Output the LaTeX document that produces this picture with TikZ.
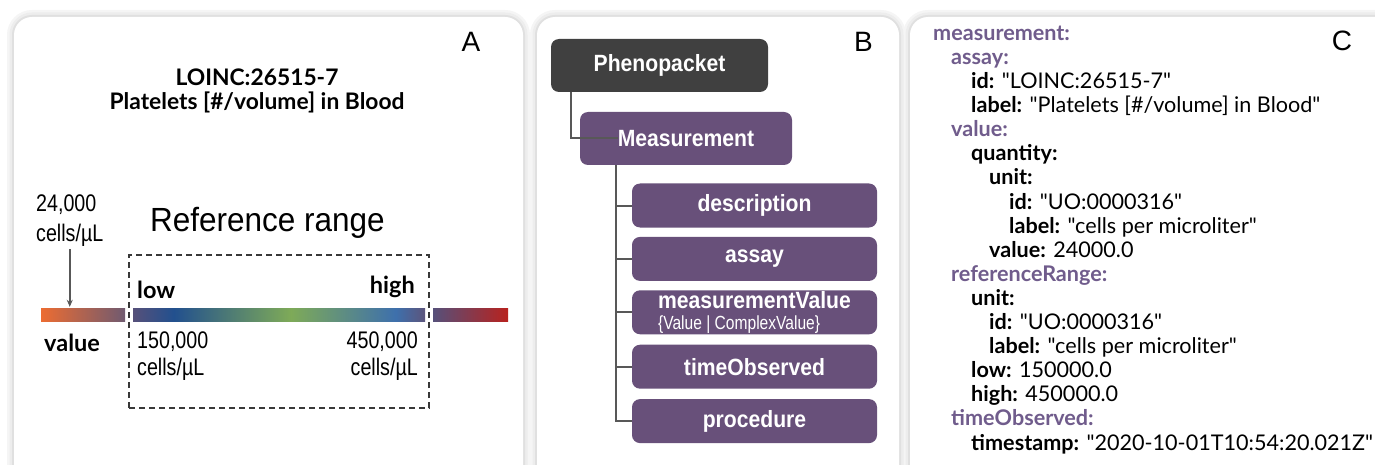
\documentclass[tikz,border=0pt]{standalone}
\usepackage{fontspec}
\setmainfont{Lato}[Ligatures=TeXOff]
\newfontfamily\narrowsf{Liberation Sans}[FakeStretch=0.82]
\newfontfamily\boxsf{Liberation Sans}[FakeStretch=0.9]
\newfontfamily\refsf{Liberation Sans}[FakeStretch=0.94]
\newfontfamily\lettersf{Liberation Sans}
\usetikzlibrary{arrows.meta,positioning,calc}

\definecolor{boxpurple}{RGB}{104,80,122}
\definecolor{boxdark}{RGB}{64,64,64}
\definecolor{keypurple}{RGB}{112,92,140}
\definecolor{treegray}{RGB}{88,88,88}
\definecolor{barorange}{RGB}{236,108,50}
\definecolor{barmauve}{RGB}{112,90,112}
\definecolor{barred}{RGB}{184,34,30}
\definecolor{rngA}{RGB}{86,80,122}
\definecolor{rngB}{RGB}{34,80,142}
\definecolor{rngC}{RGB}{126,170,88}
\definecolor{rngD}{RGB}{62,112,172}
\definecolor{rngE}{RGB}{92,84,124}

% colour ramp of the reference range (stops sit between 25bp and 75bp)
\pgfdeclarehorizontalshading{rangebar}{100bp}{color(0bp)=(rngA); color(25bp)=(rngA);
  color(32bp)=(rngB); color(52bp)=(rngC); color(70bp)=(rngD); color(75bp)=(rngE); color(100bp)=(rngE)}

% yaml helpers
\newcommand{\ykey}[1]{{\color{keypurple}\bfseries #1:}}
\newcommand{\yfld}[1]{{\bfseries #1:}}
\newcommand{\yind}[1]{\hspace*{#1pt}}

\begin{document}
\begin{tikzpicture}[x=1pt,y=-1pt,
  panel/.style={fill=white,rounded corners=18},
  letter/.style={font=\lettersf\fontsize{28}{28}\selectfont},
  title/.style={align=center,inner sep=0,font=\bfseries\fontsize{22.8}{24}\selectfont},
  narrowlbl/.style={inner sep=0,font=\narrowsf\fontsize{24}{27}\selectfont},
  boldlbl/.style={inner sep=0,font=\bfseries\fontsize{23.5}{23.5}\selectfont},
  barseg/.style={minimum height=13,inner sep=0},
  valarrow/.style={draw=treegray,line width=1.6,-{Stealth[length=7pt,width=6pt]}},
  rangebox/.style={draw=black!78,line width=1.8,dash pattern=on 6pt off 4pt,
    minimum width=300,minimum height=153,inner sep=0},
  darkbox/.style={fill=boxdark,rounded corners=8,text=white,inner sep=0,
    minimum width=217,minimum height=53,font=\boxsf\bfseries\fontsize{23.5}{23.5}\selectfont},
  childbox/.style={fill=boxpurple,rounded corners=8,text=white,inner sep=0,
    minimum width=245,minimum height=44,font=\boxsf\bfseries\fontsize{23.5}{23.5}\selectfont},
  tree/.style={draw=treegray,line width=2},
  yaml/.style={align=left,inner sep=0,font=\fontsize{21.6}{24.1}\selectfont}]
  \useasboundingbox (0,0) rectangle (1375,465);
  \clip (0,0) rectangle (1375,465);

  % Panels (soft shadow, then white card)
  \foreach \w/\c in {14/4,9/7,4/12} {
    \draw[black!\c,line width=\w,rounded corners=18] (14,17) rectangle (523,490);
    \draw[black!\c,line width=\w,rounded corners=18] (537,17) rectangle (899,490);
    \draw[black!\c,line width=\w,rounded corners=18] (910,17) rectangle (1400,490);
  }
  \fill[panel] (14,17) rectangle (523,490);
  \fill[panel] (537,17) rectangle (899,490);
  \fill[panel] (910,17) rectangle (1400,490);

  % Panel A
  \node[letter] (labA) at (471,42) {A};
  \node[title,anchor=base] (assayttl) at (257,110) {LOINC:26515-7\\Platelets [\#/volume] in Blood};
  \node[narrowlbl,align=left,anchor=base west,font=\narrowsf\fontsize{24}{30}\selectfont] (val24) at (36,241) {24,000\\cells/µL};
  \node[inner sep=0,anchor=base west,font=\refsf\fontsize{33.5}{33.5}\selectfont] (rngttl) at (150,231) {Reference range};
  \node[rangebox] (rng) at (279,331.5) {};
  % bar
  \node[barseg,minimum width=84,left color=barorange,right color=barmauve] (barL) at (83,314.5) {};
  \node[barseg,minimum width=292,shade,shading=rangebar] (barM) at (279,314.5) {};
  \node[barseg,minimum width=75,left color=rngA,right color=barred] (barR) at (470.5,314.5) {};
  \draw[valarrow,shorten <=3pt,shorten >=1pt] (val24.south) -- (val24.south |- barL.north);
  % Labels
  \node[boldlbl,anchor=base west] (lowlbl) at (137,298) {low};
  \node[boldlbl,anchor=base east] (highlbl) at (415,293) {high};
  \node[boldlbl,anchor=base west] (vallbl) at (44,351) {value};
  \node[narrowlbl,align=left,anchor=base west] (lownum) at (137,375) {150,000\\cells/µL};
  \node[narrowlbl,align=right,anchor=base east] (highnum) at (418,375) {450,000\\cells/µL};

  % Panel B
  \node[letter] (labB) at (863.5,42) {B};
  \node[darkbox] (pheno) at (659.5,65.5) {Phenopacket};
  \node[childbox,minimum width=212,minimum height=53] (meas) at (686,138.5) {Measurement};
  \node[childbox] (desc) at (754.5,205.5) {description};
  \node[childbox,below=9pt of desc] (assay) {assay};
  \node[childbox,below=9pt of assay,align=left] (mval) {measurementValue\\[-3pt]
    {\narrowsf\mdseries\fontsize{19}{19}\selectfont\{Value | ComplexValue\}}};
  \node[childbox,below=10pt of mval] (timeobs) {timeObserved};
  \node[childbox,below=10pt of timeobs] (proc) {procedure};
  \draw[tree] ([xshift=20pt]pheno.south west) |- ([xshift=38pt]meas.west);
  \foreach \n in {desc,assay,mval,timeobs,proc}
    \draw[tree] ([xshift=36pt]meas.south west) |- (\n.west);

  % Panel C
  \node[letter] (labC) at (1342,41) {C};
  \node[yaml,anchor=base west] (yamltxt) at (933,450) {%
    \ykey{measurement}\\
    \yind{18}\ykey{assay}\\
    \yind{38}\yfld{id} "LOINC:26515-7"\\
    \yind{38}\yfld{label} "Platelets [\#/volume] in Blood"\\
    \yind{18}\ykey{value}\\
    \yind{38}\yfld{quantity}\\
    \yind{56}\yfld{unit}\\
    \yind{76}\yfld{id} "UO:0000316"\\
    \yind{76}\yfld{label} "cells per microliter"\\
    \yind{56}\yfld{value} 24000.0\\
    \yind{18}\ykey{referenceRange}\\
    \yind{38}\yfld{unit}\\
    \yind{56}\yfld{id} "UO:0000316"\\
    \yind{56}\yfld{label} "cells per microliter"\\
    \yind{38}\yfld{low} 150000.0\\
    \yind{38}\yfld{high} 450000.0\\
    \yind{18}\ykey{timeObserved}\\
    \yind{38}\yfld{timestamp} "2020-10-01T10:54:20.021Z"};
\end{tikzpicture}
\end{document}
